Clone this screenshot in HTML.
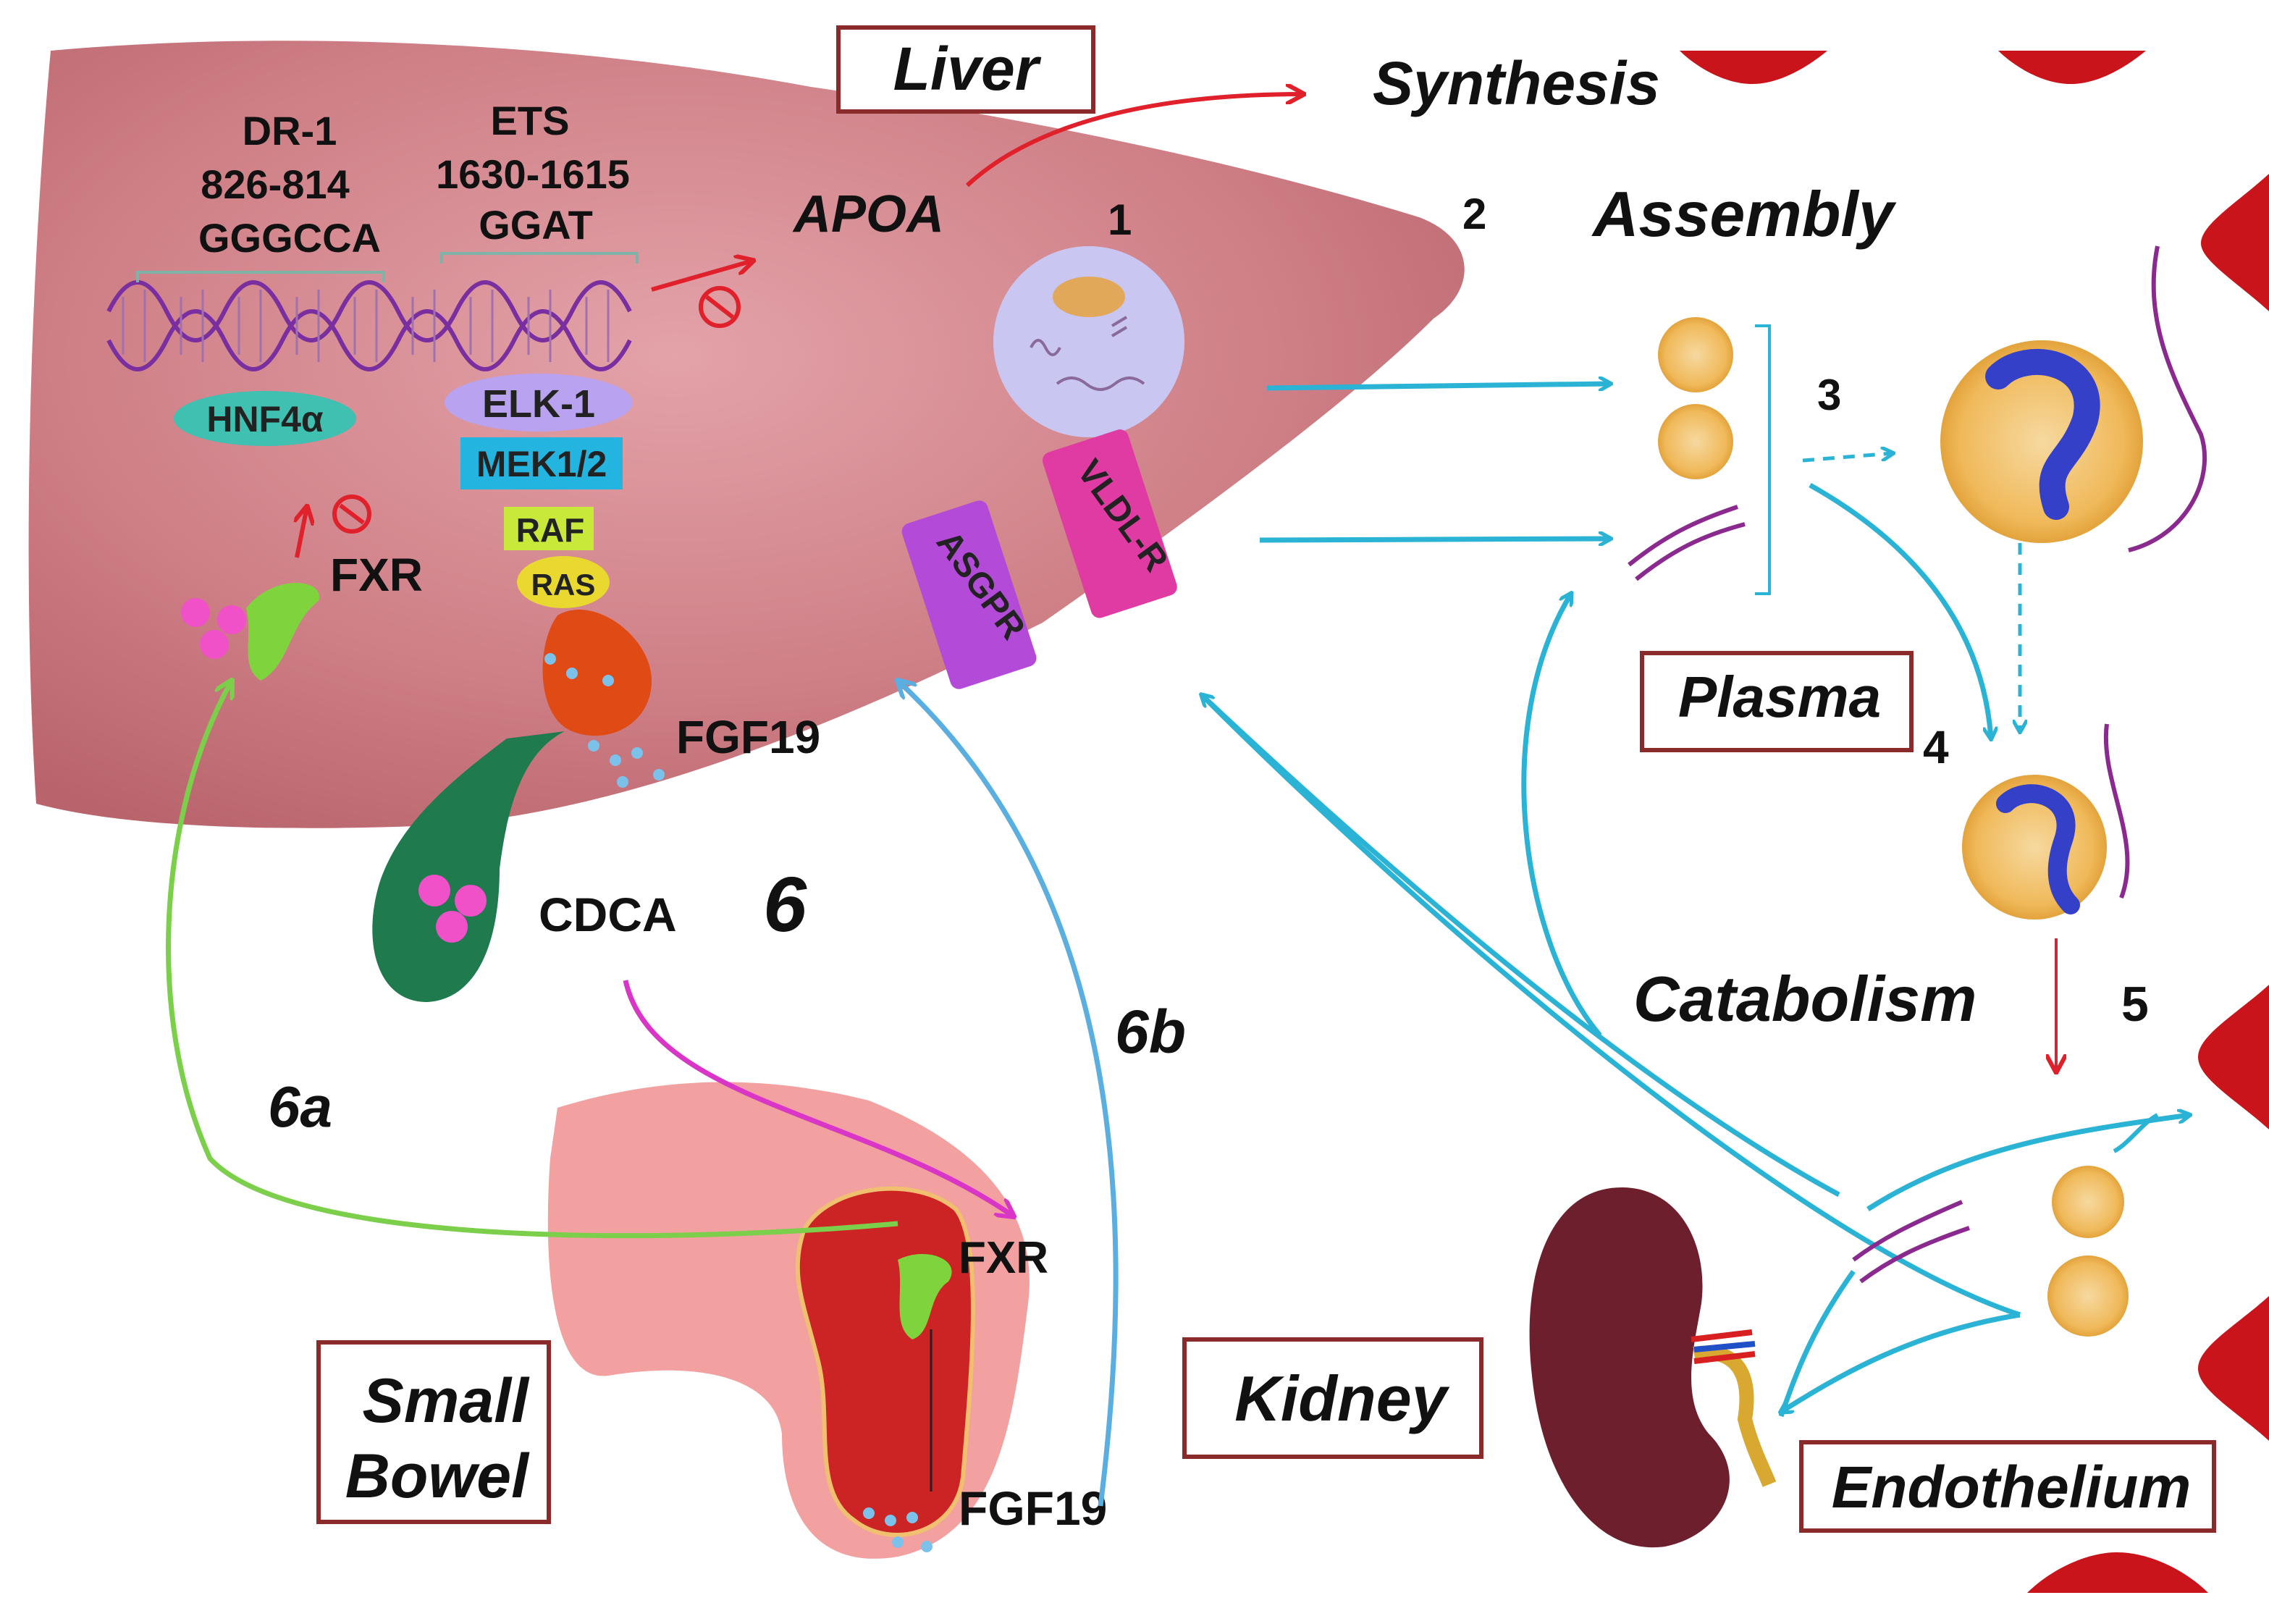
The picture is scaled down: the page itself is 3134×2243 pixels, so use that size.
<!DOCTYPE html>
<html><head><meta charset="utf-8"><style>
html,body{margin:0;padding:0;background:#fff;}
svg{display:block;}
text{font-family:"Liberation Sans",sans-serif;font-weight:bold;}
</style></head><body>
<svg width="3134" height="2243" viewBox="0 0 1567 1121.5" xmlns="http://www.w3.org/2000/svg">
<defs>
<radialGradient id="lg" cx="0.45" cy="0.4" r="0.7">
<stop offset="0" stop-color="#e3a3a9"/><stop offset="0.6" stop-color="#cf7f86"/><stop offset="1" stop-color="#b9646c"/>
</radialGradient>
<radialGradient id="pg" cx="0.5" cy="0.5" r="0.5">
<stop offset="0" stop-color="#f6d9a0"/><stop offset="0.8" stop-color="#f0b95a"/><stop offset="1" stop-color="#e3a33c"/>
</radialGradient>
<marker id="ac" markerWidth="10" markerHeight="10" refX="8" refY="5" orient="auto" markerUnits="userSpaceOnUse"><path d="M0,0 L9,5 L0,10" fill="none" stroke="#2ab3d4" stroke-width="2.5"/></marker>
<marker id="ar" markerWidth="14" markerHeight="14" refX="12" refY="7" orient="auto" markerUnits="userSpaceOnUse"><path d="M0,0 L13,7 L0,14" fill="none" stroke="#e0202a" stroke-width="3"/></marker>
<marker id="ag" markerWidth="14" markerHeight="14" refX="12" refY="7" orient="auto" markerUnits="userSpaceOnUse"><path d="M0,0 L13,7 L0,14" fill="none" stroke="#7ccf4a" stroke-width="3"/></marker>
<marker id="am" markerWidth="14" markerHeight="14" refX="12" refY="7" orient="auto" markerUnits="userSpaceOnUse"><path d="M0,0 L13,7 L0,14" fill="none" stroke="#d936c8" stroke-width="3"/></marker>
<marker id="ab" markerWidth="14" markerHeight="14" refX="12" refY="7" orient="auto" markerUnits="userSpaceOnUse"><path d="M0,0 L13,7 L0,14" fill="none" stroke="#5aaee0" stroke-width="3"/></marker>
</defs>
<rect width="1567" height="1122" fill="#fff"/>
<!-- liver -->
<path d="M35,35 C200,20 400,30 560,60 C700,80 850,110 980,150 C1020,165 1020,200 990,220 C930,280 820,360 720,430 C620,480 450,560 300,570 C180,575 80,570 25,555 C15,400 20,200 35,35 Z" fill="url(#lg)"/>
<!-- gallbladder -->
<path d="M390,505 C360,520 350,560 345,600 C345,650 330,690 295,692 C260,692 250,650 262,610 C275,570 310,540 350,510 Z" fill="#1f7a4e"/>
<!-- DNA -->
<g stroke="#7a2fa0" stroke-width="3" fill="none">
<path d="M75,215 Q95,175 115,215 T155,215 T195,215 T235,215 T275,215 T315,215 T355,215 T395,215 T435,215"/>
<path d="M75,235 Q95,275 115,235 T155,235 T195,235 T235,235 T275,235 T315,235 T355,235 T395,235 T435,235"/>
</g>
<g stroke="#a070b0" stroke-width="1.5">
<path d="M85,205 V245 M100,200 V250 M125,205 V245 M140,200 V250 M165,205 V245 M180,200 V250 M205,205 V245 M220,200 V250 M245,205 V245 M260,200 V250 M285,205 V245 M300,200 V250 M325,205 V245 M340,200 V250 M365,205 V245 M380,200 V250 M405,205 V245 M420,200 V250"/>
</g>
<path d="M95,195 L95,188 L265,188 L265,195 M305,182 L305,175 L440,175 L440,182" stroke="#7fb3a8" stroke-width="2" fill="none"/>
<g font-size="28" fill="#111" text-anchor="middle">
<text x="200" y="100">DR-1</text><text x="190" y="137">826-814</text><text x="200" y="174">GGGCCA</text>
<text x="366" y="93">ETS</text><text x="368" y="130">1630-1615</text><text x="370" y="165">GGAT</text>
</g>
<ellipse cx="183" cy="289" rx="63" ry="19" fill="#3fc0b0"/><text x="183" y="298" font-size="25" text-anchor="middle" fill="#222">HNF4α</text>
<ellipse cx="372" cy="278" rx="65" ry="20" fill="#b9a2f0"/><text x="372" y="288" font-size="27" text-anchor="middle" fill="#222">ELK-1</text>
<rect x="318" y="302" width="112" height="36" fill="#24b4e0"/><text x="374" y="329" font-size="25" text-anchor="middle" fill="#222">MEK1/2</text>
<rect x="348" y="350" width="62" height="30" fill="#c8e83a"/><text x="380" y="374" font-size="23" text-anchor="middle" fill="#222">RAF</text>
<ellipse cx="389" cy="402" rx="32" ry="18" fill="#e8d830"/><text x="389" y="411" font-size="21" text-anchor="middle" fill="#222">RAS</text>
<path d="M385,425 C410,410 450,440 450,470 C450,500 420,515 395,505 C370,495 370,445 385,425 Z" fill="#e04a14"/>
<g fill="#7cc1ea"><circle cx="380" cy="455" r="4"/><circle cx="395" cy="465" r="4"/><circle cx="420" cy="470" r="4"/><circle cx="410" cy="515" r="4"/><circle cx="425" cy="525" r="4"/><circle cx="440" cy="520" r="4"/><circle cx="430" cy="540" r="4"/><circle cx="455" cy="535" r="4"/></g>
<text x="467" y="520" font-size="32" fill="#111">FGF19</text>
<!-- FXR liver -->
<g fill="#f050c8"><circle cx="135" cy="423" r="10"/><circle cx="160" cy="428" r="10"/><circle cx="148" cy="445" r="10"/></g>
<path d="M170,420 C190,395 225,400 220,415 C200,430 200,460 180,470 C165,460 175,440 170,420 Z" fill="#7fd43e"/>
<text x="228" y="408" font-size="32" fill="#111">FXR</text>
<path d="M205,385 L212,350" stroke="#e0202a" stroke-width="3" marker-end="url(#ar)"/>
<circle cx="243" cy="355" r="12" fill="none" stroke="#e0202a" stroke-width="3"/><path d="M235,349 L251,361" stroke="#e0202a" stroke-width="3"/>
<path d="M450,200 L520,180" stroke="#e0202a" stroke-width="3" marker-end="url(#ar)"/>
<circle cx="497" cy="212" r="13" fill="none" stroke="#e0202a" stroke-width="3"/><path d="M488,205 L506,219" stroke="#e0202a" stroke-width="3"/>
<text x="548" y="160" font-size="36" font-style="italic" fill="#111">APOA</text>
<path d="M668,128 C720,80 810,65 900,65" stroke="#e0202a" stroke-width="3" fill="none" marker-end="url(#ar)"/>
<text x="948" y="72" font-size="42" font-style="italic" fill="#111">Synthesis</text>
<text x="765" y="162" font-size="30" fill="#111">1</text>
<text x="1010" y="158" font-size="30" fill="#111">2</text>
<text x="1100" y="163" font-size="44" font-style="italic" fill="#111">Assembly</text>
<!-- cell -->
<circle cx="752" cy="236" r="66" fill="#c9c6f2"/>
<ellipse cx="752" cy="205" rx="25" ry="14" fill="#e2a85a"/>
<path d="M712,240 q5,-10 10,0 q5,10 10,0 M730,265 q10,-8 20,0 q10,8 20,0 q10,-8 20,0 M768,225 l10,-6 M768,232 l10,-6" stroke="#8a6a9a" stroke-width="2" fill="none"/>
<!-- receptors -->
<g transform="rotate(-18 770 350)"><rect x="732" y="300" width="62" height="120" rx="6" fill="#e03aa3"/><text x="0" y="0" font-size="24" fill="#222" transform="translate(752,318) rotate(72)">VLDL-R</text></g>
<g transform="rotate(-18 670 400)"><rect x="635" y="350" width="62" height="120" rx="6" fill="#b44ad8"/><text x="0" y="0" font-size="24" fill="#222" transform="translate(655,368) rotate(72)">ASGPR</text></g>
<!-- liver box -->
<rect x="579" y="19" width="176" height="58" fill="#fff" stroke="#8b2a2a" stroke-width="3"/>
<text x="667" y="62" font-size="42" font-style="italic" text-anchor="middle" fill="#111">Liver</text>
<text x="527" y="643" font-size="54" font-style="italic" fill="#111">6</text>
<g fill="#f050c8"><circle cx="300" cy="615" r="11"/><circle cx="325" cy="622" r="11"/><circle cx="312" cy="640" r="11"/></g>
<text x="372" y="643" font-size="33" fill="#111">CDCA</text>
<!-- bowel -->
<path d="M385,765 C450,745 520,740 600,760 C650,780 720,820 710,900 C700,980 690,1060 620,1075 C560,1085 540,1040 540,990 C535,950 480,940 420,950 C380,955 375,870 380,800 Z" fill="#f2a0a0"/>
<path d="M555,850 C570,820 630,810 660,835 C680,860 670,960 665,1020 C660,1060 615,1070 590,1050 C560,1030 575,980 565,940 C555,900 545,880 555,850 Z" fill="#cc2424" stroke="#f0c070" stroke-width="3"/>
<path d="M620,870 C640,860 665,870 655,885 C640,895 645,920 630,925 C615,915 625,890 620,870 Z" fill="#7fd43e"/>
<path d="M643,918 L643,1030" stroke="#222" stroke-width="1.5"/>
<text x="662" y="879" font-size="31" fill="#111">FXR</text>
<text x="662" y="1053" font-size="33" fill="#111">FGF19</text>
<g fill="#7cc1ea"><circle cx="600" cy="1045" r="4"/><circle cx="615" cy="1050" r="4"/><circle cx="630" cy="1048" r="4"/><circle cx="620" cy="1065" r="4"/><circle cx="640" cy="1068" r="4"/></g>
<rect x="220" y="927" width="159" height="124" fill="#fff" stroke="#8b2a2a" stroke-width="3"/>
<text x="365" y="982" font-size="43" font-style="italic" text-anchor="end" fill="#111">Small</text>
<text x="365" y="1034" font-size="43" font-style="italic" text-anchor="end" fill="#111">Bowel</text>
<!-- 6a/6b arrows -->
<path d="M620,845 C450,860 200,860 145,800 C100,700 110,560 160,470" stroke="#7ccf4a" stroke-width="3.5" fill="none" marker-end="url(#ag)"/>
<text x="185" y="778" font-size="40" font-style="italic" fill="#111">6a</text>
<path d="M432,677 C450,760 600,770 700,840" stroke="#d936c8" stroke-width="3.5" fill="none" marker-end="url(#am)"/>
<path d="M760,1040 C790,800 760,600 620,470" stroke="#5aaee0" stroke-width="3.5" fill="none" marker-end="url(#ab)"/>
<text x="770" y="727" font-size="42" font-style="italic" fill="#111">6b</text>
<!-- plasma particles -->
<circle cx="1171" cy="245" r="26" fill="url(#pg)"/><circle cx="1171" cy="305" r="26" fill="url(#pg)"/>
<path d="M1125,390 C1150,370 1170,360 1200,350 M1130,400 C1155,380 1175,370 1205,362" stroke="#8a2a8e" stroke-width="3" fill="none"/>
<path d="M1212,225 L1222,225 L1222,410 L1212,410" stroke="#2ab3d4" stroke-width="2" fill="none"/>
<path d="M875,268 L1112,265" stroke="#2ab3d4" stroke-width="3.5" marker-end="url(#ac)"/>
<path d="M870,373 L1112,372" stroke="#2ab3d4" stroke-width="3.5" marker-end="url(#ac)"/>
<text x="1255" y="283" font-size="30" fill="#111">3</text>
<path d="M1245,318 L1307,313" stroke="#2ab3d4" stroke-width="2.5" stroke-dasharray="8,6" marker-end="url(#ac)"/>
<circle cx="1410" cy="305" r="70" fill="url(#pg)"/>
<path d="M1380,260 C1400,240 1450,250 1440,290 C1430,320 1410,320 1420,350" stroke="#3540c8" stroke-width="18" fill="none" stroke-linecap="round"/>
<path d="M1490,170 C1480,220 1500,260 1520,300 C1530,330 1510,370 1470,380" stroke="#8a2a8e" stroke-width="3" fill="none"/>
<path d="M1395,375 L1395,505" stroke="#2ab3d4" stroke-width="2.5" stroke-dasharray="8,6" marker-end="url(#ac)"/>
<path d="M1250,335 C1330,380 1370,440 1375,510" stroke="#2ab3d4" stroke-width="3.5" fill="none" marker-end="url(#ac)"/>
<rect x="1134" y="451" width="186" height="67" fill="#fff" stroke="#8b2a2a" stroke-width="3"/>
<text x="1229" y="495" font-size="40" font-style="italic" text-anchor="middle" fill="#111">Plasma</text>
<text x="1328" y="527" font-size="32" fill="#111">4</text>
<circle cx="1405" cy="585" r="50" fill="url(#pg)"/>
<path d="M1385,555 C1400,540 1435,550 1425,580 C1418,600 1420,615 1430,625" stroke="#3540c8" stroke-width="13" fill="none" stroke-linecap="round"/>
<path d="M1455,500 C1450,540 1480,580 1465,620" stroke="#8a2a8e" stroke-width="3" fill="none"/>
<text x="1128" y="705" font-size="44" font-style="italic" fill="#111">Catabolism</text>
<text x="1465" y="705" font-size="34" fill="#111">5</text>
<path d="M1420,648 L1420,740" stroke="#c0303a" stroke-width="2" marker-end="url(#ar)"/>
<!-- cyan catabolism arrows -->
<path d="M1270,825 C1150,760 1000,640 830,480" stroke="#2ab3d4" stroke-width="3.5" fill="none" marker-end="url(#ac)"/>
<path d="M1395,908 C1250,860 1000,650 830,480" stroke="#2ab3d4" stroke-width="3.5" fill="none"/>
<path d="M1105,715 C1050,650 1030,500 1085,410" stroke="#2ab3d4" stroke-width="3.5" fill="none" marker-end="url(#ac)"/>
<path d="M1290,835 C1360,790 1440,780 1512,770" stroke="#2ab3d4" stroke-width="3.5" fill="none" marker-end="url(#ac)"/>
<path d="M1460,795 C1470,790 1480,775 1490,770" stroke="#2ab3d4" stroke-width="3" fill="none"/>
<path d="M1395,908 C1320,920 1270,950 1230,975" stroke="#2ab3d4" stroke-width="3.5" fill="none" marker-end="url(#ac)"/>
<path d="M1280,878 C1250,920 1240,950 1230,978" stroke="#2ab3d4" stroke-width="3.5" fill="none"/>
<path d="M1280,870 C1300,855 1320,845 1355,830 M1285,885 C1305,870 1325,860 1360,848" stroke="#8a2a8e" stroke-width="3" fill="none"/>
<circle cx="1442" cy="830" r="25" fill="url(#pg)"/><circle cx="1442" cy="895" r="28" fill="url(#pg)"/>
<!-- kidney -->
<path d="M1120,820 C1070,820 1050,880 1058,950 C1065,1020 1100,1075 1150,1068 C1190,1060 1210,1020 1180,990 C1160,965 1170,930 1175,900 C1180,860 1160,820 1120,820 Z" fill="#6e1f2e"/>
<path d="M1170,935 C1200,930 1210,950 1205,980 C1210,1000 1218,1015 1222,1025" stroke="#d8a830" stroke-width="10" fill="none"/>
<path d="M1168,925 L1210,920 M1170,940 L1212,935" stroke="#d82020" stroke-width="4"/>
<path d="M1170,932 L1212,928" stroke="#2050c8" stroke-width="4"/>
<rect x="818" y="925" width="205" height="81" fill="#fff" stroke="#8b2a2a" stroke-width="3"/>
<text x="926" y="981" font-size="44" font-style="italic" text-anchor="middle" fill="#111">Kidney</text>
<rect x="1244" y="996" width="285" height="61" fill="#fff" stroke="#8b2a2a" stroke-width="3"/>
<text x="1389" y="1041" font-size="41" font-style="italic" text-anchor="middle" fill="#111">Endothelium</text>
<!-- endothelial red cells -->
<g fill="#c8141a">
<path d="M1160,35 L1262,35 C1250,45 1230,58 1210,58 C1190,58 1170,45 1160,35 Z"/>
<path d="M1380,35 L1482,35 C1470,45 1450,58 1430,58 C1410,58 1390,45 1380,35 Z"/>
<path d="M1567,120 L1567,215 C1545,195 1520,180 1520,168 C1520,155 1545,140 1567,120 Z"/>
<path d="M1567,680 L1567,780 C1545,760 1518,745 1518,730 C1518,715 1545,700 1567,680 Z"/>
<path d="M1567,895 L1567,995 C1545,975 1518,960 1518,945 C1518,930 1545,915 1567,895 Z"/>
<path d="M1400,1100 L1525,1100 C1510,1085 1485,1072 1462,1072 C1440,1072 1415,1085 1400,1100 Z"/>
</g>
</svg>
</body></html>
